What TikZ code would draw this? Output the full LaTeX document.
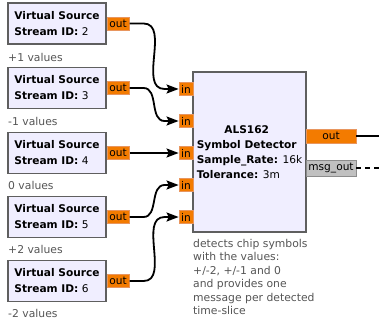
\documentclass[tikz,border=0pt]{standalone}
\usepackage{fontspec}
\usepackage{calc}
\setmainfont{DejaVu Sans}
\usetikzlibrary{arrows.meta}
\usetikzlibrary{positioning}

\definecolor{srcfill}{RGB}{240,238,255}
\definecolor{boxline}{RGB}{95,95,95}
\definecolor{portfill}{RGB}{243,123,0}
\definecolor{portline}{RGB}{232,150,95}
\definecolor{msgfill}{RGB}{192,192,192}
\definecolor{msgline}{RGB}{140,140,140}
\definecolor{notetext}{RGB}{85,85,85}

\tikzset{
  srcbox/.style={draw=boxline,line width=1.5pt,fill=srcfill,minimum width=98pt,minimum height=41pt,inner sep=0pt,align=left,font=\fontsize{10.6}{16}\selectfont},
  detbox/.style={draw=boxline,line width=1.5pt,fill=srcfill,minimum width=113pt,minimum height=160pt,inner sep=0pt,align=left,font=\fontsize{10.6}{15}\selectfont},
  port/.style={draw=portline,fill=portfill,line width=0.8pt,inner sep=0pt,minimum height=13pt,font=\fontsize{10.6}{11}\selectfont},
  msgport/.style={draw=msgline,fill=msgfill,line width=0.8pt,inner sep=0pt,minimum height=16pt,font=\fontsize{10.6}{11}\selectfont},
  vals/.style={anchor=west,inner sep=0pt,text=notetext,font=\fontsize{10.8}{12}\selectfont},
  wire/.style={draw=black,line width=1.8pt,-{Stealth[length=12pt,width=9pt,inset=2pt]}},
}

\begin{document}
\begin{tikzpicture}[x=1pt,y=-1pt]
\useasboundingbox (0,0) rectangle (379,323);

\node[srcbox] (src2) at (57,23.5) {\textbf{Virtual Source}\\\textbf{Stream ID:} 2};
\node[srcbox] (src3) at (57,88) {\textbf{Virtual Source}\\\textbf{Stream ID:} 3};
\node[srcbox] (src4) at (57,153) {\textbf{Virtual Source}\\\textbf{Stream ID:} 4};
\node[srcbox] (src5) at (57,217) {\textbf{Virtual Source}\\\textbf{Stream ID:} 5};
\node[srcbox] (src6) at (57,281) {\textbf{Virtual Source}\\\textbf{Stream ID:} 6};

\node[port,minimum width=22pt,right=0pt of src2] (o2) {out};
\node[port,minimum width=22pt,right=0pt of src3] (o3) {out};
\node[port,minimum width=22pt,right=0pt of src4] (o4) {out};
\node[port,minimum width=22pt,right=0pt of src5] (o5) {out};
\node[port,minimum width=22pt,right=0pt of src6] (o6) {out};

\node[vals] (v2) at (8,57) {+1 values};
\node[vals] (v3) at (8,121) {-1 values};
\node[vals] (v4) at (8,185) {0 values};
\node[vals] (v5) at (8,249) {+2 values};
\node[vals] (v6) at (8,313) {-2 values};

\node[detbox] (det) at (249.5,152) {\makebox[\widthof{\textbf{Symbol Detector}}][c]{\textbf{ALS162}}\\\textbf{Symbol Detector}\\\textbf{Sample\_Rate:} 16k\\\textbf{Tolerance:} 3m};

\node[port,minimum width=14pt] (i1) at (186,89) {in};
\node[port,minimum width=14pt] (i2) at (186,121) {in};
\node[port,minimum width=14pt] (i3) at (186,153) {in};
\node[port,minimum width=14pt] (i4) at (186,185) {in};
\node[port,minimum width=14pt] (i5) at (186,217) {in};

\node[port,minimum width=50pt,minimum height=14pt] (dout) at (331,136) {out};
\node[msgport,minimum width=50pt] (mout) at (331,168) {msg\_out};
\coordinate (dend) at (379,136);
\coordinate (mend) at (379,168);

\node[anchor=north west,inner sep=0pt,align=left,text=notetext,font=\fontsize{10.8}{13.5}\selectfont] (note) at (193,239) {detects chip symbols\\with the values:\\+/-2, +/-1 and 0\\and provides one\\message per detected\\time-slice};

\draw[wire] (o2.east) -- ++(14,0) to[out=0,in=180] ([xshift=-14pt]i1.west) -- (i1.west);
\draw[wire] (o3.east) -- ++(14,0) to[out=0,in=180] ([xshift=-14pt]i2.west) -- (i2.west);
\draw[wire] (o4.east) -- (i3.west);
\draw[wire] (o5.east) -- ++(14,0) to[out=0,in=180] ([xshift=-14pt]i4.west) -- (i4.west);
\draw[wire] (o6.east) -- ++(14,0) to[out=0,in=180] ([xshift=-14pt]i5.west) -- (i5.west);
\draw[line width=1.8pt] (dout.east) -- (dend);
\draw[line width=1.5pt,dash pattern=on 5pt off 4pt] (mout.east) -- (mend);

\end{tikzpicture}
\end{document}
